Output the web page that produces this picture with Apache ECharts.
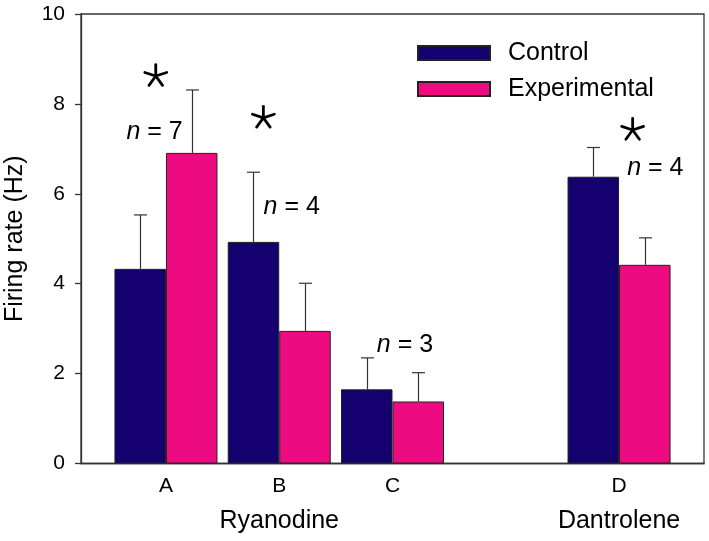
<!DOCTYPE html>
<html><head><meta charset="utf-8">
<script src="https://cdn.jsdelivr.net/npm/echarts@6/dist/echarts.min.js"></script>
<style>html,body{margin:0;padding:0;background:#fff}#c{width:709px;height:541px}</style>
</head><body><div id="c"></div>
<script>
// ---- data ----
const categories = ['A', 'B', 'C', 'D'];
const positions = [1, 2, 3, 5];
const groupNames = ['', 'Ryanodine', '', 'Dantrolene'];
const control = [4.33, 4.93, 1.65, 6.38];
const controlErr = [1.20, 1.55, 0.70, 0.65];
const experimental = [6.91, 2.95, 1.38, 4.42];
const experimentalErr = [1.40, 1.06, 0.64, 0.60];
const yTicks = [0, 2, 4, 6, 8, 10];
const nLabels = ['7', '4', '3', '4'];
const nLabelX = [0.9, 2.11, 3.11, 5.32];
const nLabelY = [7.38, 5.71, 2.64, 6.57];
const starX = [0.91, 1.86, 5.12];
const starY = [8.62, 7.69, 7.42];

// ---- style ----
const FONT = '"Liberation Sans", Arial, Helvetica, sans-serif';
const BAR_W = 51.5;
const CAP = 6.5;
const C_CONTROL = '#14006f';
const C_EXP = '#ee0a80';
const AX = '#333';

function errSeries(sign, means, errs) {
  return {
    type: 'custom', silent: true, z: 4,
    data: positions.map((p, i) => [p, means[i], means[i] + errs[i]]),
    encode: { x: 0, y: [1, 2] },
    renderItem(params, api) {
      const x = api.value(0);
      const lo = api.coord([x, api.value(1)]);
      const hi = api.coord([x, api.value(2)]);
      const cx = Math.round(lo[0] + sign * BAR_W / 2) + 0.5;
      const st = { stroke: AX, lineWidth: 1.2 };
      return { type: 'group', children: [
        { type: 'line', shape: { x1: cx, y1: lo[1], x2: cx, y2: hi[1] }, style: st },
        { type: 'line', shape: { x1: cx - CAP, y1: hi[1], x2: cx + CAP, y2: hi[1] }, style: st }
      ]};
    }
  };
}

const chart = echarts.init(document.getElementById('c'), null, { renderer: 'canvas' });
chart.setOption({
  animation: false,
  backgroundColor: '#fff',
  textStyle: { fontFamily: FONT, color: '#000' },
  grid: { left: 81, right: 5, top: 14, bottom: 77.5, containLabel: false, outerBoundsMode: 'none',
          show: true, borderColor: AX, borderWidth: 1.3, backgroundColor: 'transparent' },
  legend: {
    data: ['Control', 'Experimental'], orient: 'vertical', left: 412, top: 34,
    itemWidth: 72, itemHeight: 14, itemGap: 8, icon: 'rect',
    textStyle: { fontSize: 25, fontFamily: FONT, color: '#000', padding: [0, 0, 0, 13], lineHeight: 28 }
  },
  xAxis: {
    type: 'value', min: 0.25, max: 5.75,
    splitLine: { show: false },
    axisTick: { show: false },
    axisLine: { show: true, lineStyle: { color: AX, width: 1.3 } },
    axisLabel: {
      customValues: positions, margin: 11, color: '#000', fontFamily: FONT, fontSize: 21,
      formatter: v => {
        const i = positions.indexOf(v);
        if (i < 0) return '';
        return '{a|' + categories[i] + '}' + (groupNames[i] ? '\n{g|' + groupNames[i] + '}' : '');
      },
      rich: {
        a: { fontSize: 21, lineHeight: 24, fontFamily: FONT, color: '#000' },
        g: { fontSize: 25, lineHeight: 46, fontFamily: FONT, color: '#000' }
      }
    }
  },
  yAxis: {
    type: 'value', min: yTicks[0], max: yTicks[yTicks.length - 1], interval: 2,
    name: 'Firing rate (Hz)', nameLocation: 'middle', nameGap: 53, nameRotate: 90,
    nameTextStyle: { fontSize: 25, fontFamily: FONT, color: '#000' },
    splitLine: { show: false },
    axisLine: { show: true, lineStyle: { color: AX, width: 1.3 } },
    axisTick: { show: true, inside: false, length: 6, lineStyle: { color: AX, width: 1.3 } },
    axisLabel: { fontSize: 21, margin: 16, color: '#000', fontFamily: FONT }
  },
  series: [
    {
      name: 'Control', type: 'bar', barWidth: BAR_W, barGap: '0%',
      data: positions.map((p, i) => [p, control[i]]),
      itemStyle: { color: C_CONTROL, borderColor: '#222', borderWidth: 1 }
    },
    {
      name: 'Experimental', type: 'bar', barWidth: BAR_W, barGap: '0%',
      data: positions.map((p, i) => [p, experimental[i]]),
      itemStyle: { color: C_EXP, borderColor: '#222', borderWidth: 1 }
    },
    errSeries(-1, control, controlErr),
    errSeries(1, experimental, experimentalErr),
    {
      type: 'custom', silent: true, z: 5,
      data: nLabels.map((t, i) => [nLabelX[i], nLabelY[i], t]),
      renderItem(params, api) {
        const p = api.coord([api.value(0), api.value(1)]);
        return {
          type: 'text', x: p[0], y: p[1],
          style: {
            text: '{i|n} = ' + nLabels[params.dataIndex],
            fontSize: 25, fontFamily: FONT, fill: '#000',
            align: 'center', verticalAlign: 'middle',
            rich: { i: { fontStyle: 'italic', fontSize: 25, fontFamily: FONT, fill: '#000' } }
          }
        };
      }
    },
    {
      type: 'custom', silent: true, z: 5,
      data: starX.map((x, i) => [x, starY[i]]),
      renderItem(params, api) {
        const p = api.coord([api.value(0), api.value(1)]);
        const angles = [90, 162, 18, 234, 306];
        const r = 11.5;
        return { type: 'group', children: angles.map(a => {
          const rad = a * Math.PI / 180;
          return { type: 'line', shape: { x1: p[0], y1: p[1], x2: p[0] + r * Math.cos(rad), y2: p[1] - r * Math.sin(rad) },
                   style: { stroke: '#000', lineWidth: 2.8, lineCap: 'round' } };
        })};
      }
    }
  ]
});
</script>
</body></html>
